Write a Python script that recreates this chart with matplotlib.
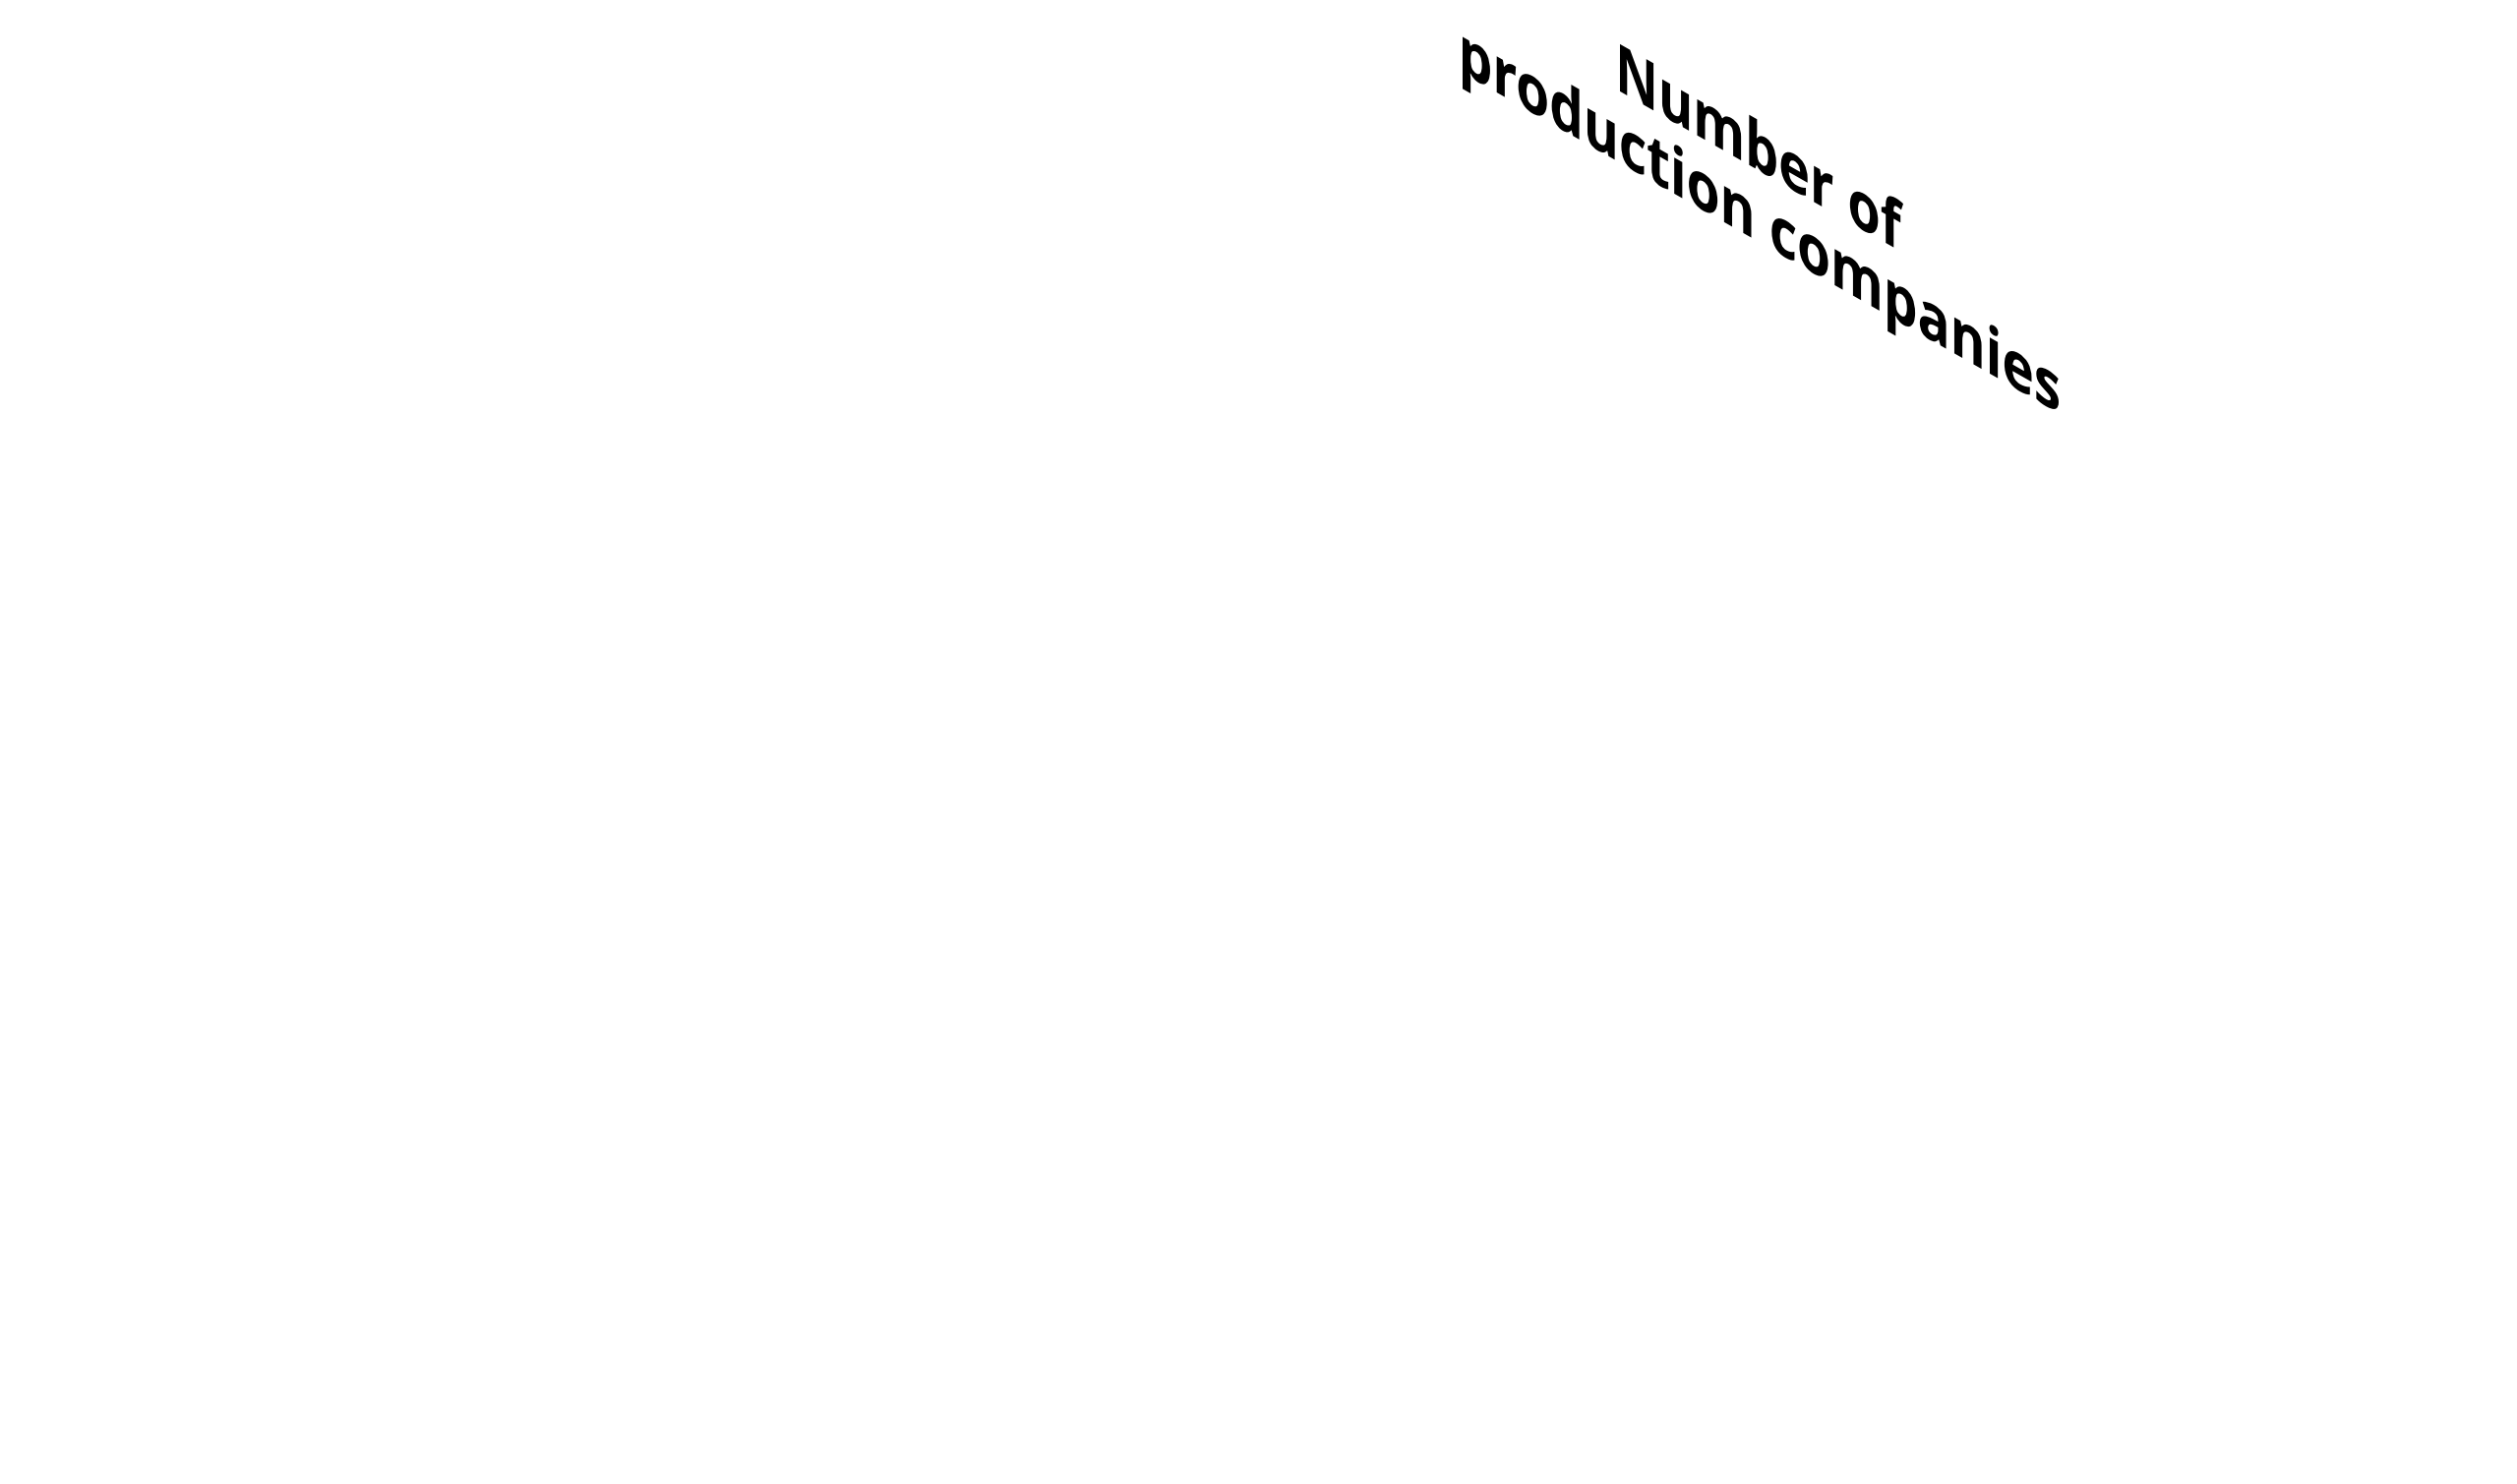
import numpy as np
import matplotlib
matplotlib.use('Agg')
import matplotlib.pyplot as plt
from matplotlib.textpath import TextPath
from matplotlib.patches import PathPatch
from matplotlib.font_manager import FontProperties
from matplotlib.transforms import Affine2D

# figure in pixels
W, H = 2559, 1509

# the only thing visible: an axis title drawn in a 3d-like projection
title_lines = ['Number of', 'production companies']
line_widths = [288, 606]      # screen width of each line, px
line_centers = [1791, 1790]   # screen x of each line centre, px
line_bases = [175, 247]       # baseline y at the line centre, px

fig = plt.figure(figsize=(W / 100, H / 100), dpi=100)
ax = fig.add_axes([0, 0, 1, 1])
ax.set_xlim(0, W)
ax.set_ylim(H, 0)
ax.axis('off')

fp = FontProperties(family='Open Sans', weight='bold')

slope = np.tan(np.radians(29.7))  # baseline slant
cap_h = 48                        # height of capital N, px

# font size from the cap height
em = cap_h / TextPath((0, 0), 'N', size=1, prop=fp).get_extents().height

for txt, w, cx, yb in zip(title_lines, line_widths, line_centers, line_bases):
    tp = TextPath((0, 0), txt, size=em, prop=fp)
    e = tp.get_extents()
    mid = (e.x0 + e.x1) / 2
    sx = w / e.width
    # text x axis -> (sx, sx*slope), text up -> screen up
    proj = Affine2D(np.array([[sx, 0, 0],
                              [sx * slope, 1, 0],
                              [0, 0, 1]]))
    tr = (Affine2D().translate(-mid, 0).scale(1, -1)
          + proj + Affine2D().translate(cx, yb))
    patch = PathPatch(tr.transform_path(tp), facecolor='black',
                      edgecolor='none', lw=0)
    ax.add_patch(patch)

fig.savefig('out.png', dpi=100, facecolor='white')
